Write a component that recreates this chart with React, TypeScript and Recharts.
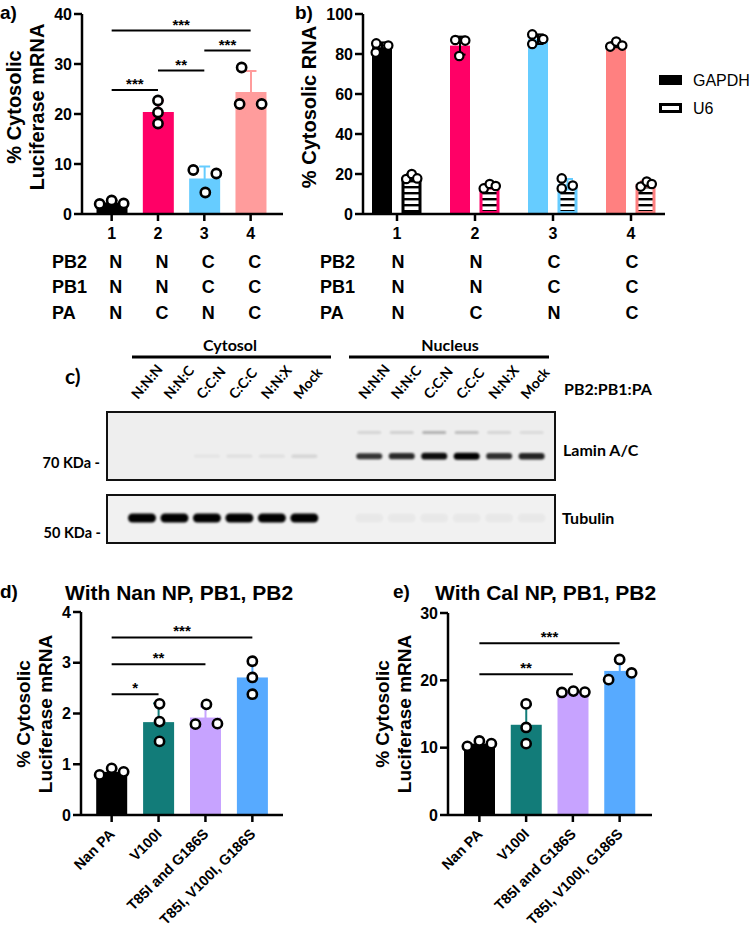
import React from 'react'
import { ComposedChart, ScatterChart, Bar, Scatter, XAxis, YAxis, ReferenceLine } from 'recharts'

const FONT = '"Liberation Sans", Arial, Helvetica, sans-serif'
const BLOT_FONT = 'Lato, "Open Sans", sans-serif'

// ---------- a) cytosolic luciferase mRNA, segment origin 1-4
const aCats = ['1', '2', '3', '4']
const aMeans = [2.3, 20.4, 7.1, 24.4]
const aSD = [0.4, 2.3, 2.4, 4.2]
const aPoints = [
  [2.0, 2.7, 2.1],
  [22.7, 20.3, 18.1],
  [8.8, 8.1, 4.3],
  [29.3, 22.0, 22.0],
]
const aColors = ['#000000', '#FF0066', '#66CCFF', '#FF9C9C']
const aTicks = [0, 10, 20, 30, 40]
const aSig = [
  { from: '1', to: '4', y: 36.7, label: '***' },
  { from: '3', to: '4', y: 32.7, label: '***' },
  { from: '2', to: '3', y: 28.7, label: '**' },
  { from: '1', to: '2', y: 24.8, label: '***' },
]

// table under a) and b): which segment is nuclear (N) or cytosolic (C)
const pbRows = [
  { name: 'PB2', values: ['N', 'N', 'C', 'C'] },
  { name: 'PB1', values: ['N', 'N', 'C', 'C'] },
  { name: 'PA', values: ['N', 'C', 'N', 'C'] },
]

// ---------- b) % cytosolic RNA, GAPDH vs U6
const bCats = ['1', '2', '3', '4']
const gapdhMeans = [83.4, 84.2, 87.4, 84.7]
const gapdhSD = [2.4, 4.5, 2.4, 1.3]
const gapdhPoints = [
  [85.3, 84.2, 80.7],
  [87.0, 86.7, 79.0],
  [89.8, 87.5, 85.0],
  [83.7, 86.2, 84.2],
]
const u6Means = [18.4, 13.9, 14.9, 15.0]
const u6SD = [1.4, 1.1, 2.6, 1.3]
const u6Points = [
  [17.5, 20.0, 17.8],
  [12.8, 15.0, 14.0],
  [17.8, 12.8, 14.2],
  [13.7, 16.2, 15.0],
]
const bColors = ['#000000', '#FF0066', '#66CCFF', '#FF8080']
const bTicks = [0, 20, 40, 60, 80, 100]

// ---------- d) and e) PA mutants
const mutCats = ['Nan PA', 'V100I', 'T85I and G186S', 'T85I, V100I, G186S']
const mutColors = ['#000000', '#127C79', '#C7A3FF', '#57AAFF']

const dMeans = [0.85, 1.83, 1.92, 2.71]
const dSD = [0.06, 0.37, 0.22, 0.33]
const dPoints = [
  [0.79, 0.92, 0.85],
  [2.19, 1.84, 1.45],
  [1.79, 2.18, 1.8],
  [3.03, 2.71, 2.38],
]
const dTicks = [0, 1, 2, 3, 4]
const dSig = [
  { from: 'Nan PA', to: 'T85I, V100I, G186S', y: 3.5, label: '***' },
  { from: 'Nan PA', to: 'T85I and G186S', y: 2.97, label: '**' },
  { from: 'Nan PA', to: 'V100I', y: 2.38, label: '*' },
]

const eMeans = [10.6, 13.4, 18.3, 21.4]
const eSD = [0.5, 3.0, 0.1, 1.5]
const ePoints = [
  [10.2, 11.0, 10.6],
  [16.5, 13.0, 10.6],
  [18.2, 18.4, 18.25],
  [23.1, 20.1, 21.1],
]
const eTicks = [0, 10, 20, 30]
const eSig = [
  { from: 'Nan PA', to: 'T85I, V100I, G186S', y: 25.5, label: '***' },
  { from: 'Nan PA', to: 'T85I and G186S', y: 20.9, label: '**' },
]

// ---------- c) western blot
const laneLabels = ['N:N:N', 'N:N:C', 'C:C:N', 'C:C:C', 'N:N:X', 'Mock']
const laneIdx = [0, 1, 2, 3, 4, 5, 7, 8, 9, 10, 11, 12] // slot 6 is the gap between fractions
const laminMain = [0, 0, 0.04, 0.06, 0.06, 0.1, 0.78, 0.82, 0.95, 1, 0.8, 0.85]
const laminUpper = [0, 0, 0, 0, 0, 0, 0.1, 0.12, 0.25, 0.2, 0.1, 0.08]
const tubulin = [1, 1, 1, 1, 1, 1, 0.03, 0.03, 0.03, 0.03, 0.03, 0.03]
const laminMainPos = 0.35
const laminUpperPos = 0.7
const tubulinPos = 0.52

// jitter of the replicate dots (px), per category / replicate
const aJitter = [[-12, 0, 12], [0, 0, 0], [-11, 12, 1], [-9, -11, 11]]
const gapdhJitter = [[-6, 6, -6.5], [-5, 5, -1], [-6, 5, -6], [-6, 0, 6]]
const u6Jitter = [[-5.5, 0, 5.5], [-6, 0, 6], [-6, -6, 5], [-5, 1, 6]]
const dJitter = [[-12, 0, 12], [1, 1, 1], [-10, 1, 12], [0, 0, 0]]
const eJitter = [[-12, 0, 12], [0, 0, 0], [-11, 0.5, 12], [0, -11, 12]]

type Geom = {
  left: number; top: number; width: number; height: number
  plotLeft: number; plotRight: number; plotTop: number; plotBottom: number
  padL: number; padR: number; xAxisH: number
}

const gA: Geom = { left: 0, top: 0, width: 300, height: 250, plotLeft: 82, plotRight: 283, plotTop: 14, plotBottom: 214, padL: 6.5, padR: 9.2, xAxisH: 30 }
const gB: Geom = { left: 300, top: 0, width: 370, height: 250, plotLeft: 363, plotRight: 665, plotTop: 14, plotBottom: 214, padL: -5, padR: -5, xAxisH: 30 }
const gD: Geom = { left: 0, top: 540, width: 300, height: 391, plotLeft: 81, plotRight: 283, plotTop: 612, plotBottom: 815, padL: 7.2, padR: 7.2, xAxisH: 110 }
const gE: Geom = { left: 380, top: 540, width: 290, height: 391, plotLeft: 448, plotRight: 652, plotTop: 613, plotBottom: 815, padL: 8, padR: 9, xAxisH: 110 }

const catX = (g: Geom, i: number) => {
  const band = (g.plotRight - g.plotLeft - g.padL - g.padR) / 4
  return g.plotLeft + g.padL + band * (i + 0.5)
}
const marginOf = (g: Geom) => ({
  top: g.plotTop - g.top,
  right: g.left + g.width - g.plotRight,
  bottom: g.top + g.height - g.plotBottom - g.xAxisH,
  left: 0,
})

const AXIS = { stroke: '#000', strokeWidth: 2.5 }
const TICK = { fill: '#000', fontSize: 16, fontWeight: 700, fontFamily: FONT }
const SIG_LABEL = { position: 'top', offset: 1, fill: '#000', fontSize: 15, fontWeight: 700, fontFamily: FONT }

// bar + SD whisker; the whisker length uses the bar's own px-per-unit
const barWithSD = (cats: string[], colors: string[], errColor: string | null, hatch = false) => (p: any) => {
  const i = p.payload ? cats.indexOf(p.payload.name) : p.index
  const c = colors[i]
  const mean = p.payload.mean
  const perUnit = mean ? p.height / mean : 0
  const yTop = p.y - p.payload.sd * perUnit
  const yLow = p.y + p.payload.sd * perUnit
  const cx = p.x + p.width / 2
  const ec = errColor || c
  return (
    <g>
      {hatch ? (
        <rect x={p.x + 1.5} y={p.y + 1.5} width={p.width - 3} height={Math.max(0, p.height - 3)} fill="url(#hatch)" stroke={c} strokeWidth={3} />
      ) : (
        <rect x={p.x} y={p.y} width={p.width} height={p.height} fill={c} />
      )}
      <line x1={cx} x2={cx} y1={yLow} y2={yTop} stroke={ec} strokeWidth={2} />
      <line x1={cx - 5.5} x2={cx + 5.5} y1={yTop} y2={yTop} stroke={ec} strokeWidth={2} />
      <line x1={cx - 5.5} x2={cx + 5.5} y1={yLow} y2={yLow} stroke={ec} strokeWidth={2} />
    </g>
  )
}

const dot = (cats: string[], jitter: number[][], k: number, shift: number, r: number, sw: number) => (p: any) => {
  const i = p.payload ? cats.indexOf(p.payload.name) : p.index
  return <circle cx={p.cx + shift + jitter[i][k]} cy={p.cy} r={r} fill="#fff" stroke="#000" strokeWidth={sw} />
}

const SlantTick = (p: any) => (
  <text transform={`translate(${p.x + 4},${p.y + 11}) rotate(-45)`} textAnchor="end" fontSize={14.5} fontWeight={700} fontFamily={FONT} fill="#000">
    {p.payload.value}
  </text>
)

function DotBarPanel({ g, cats, means, sd, points, jitter, colors, sig, domain, ticks, slanted }: any) {
  const data = cats.map((name: string, i: number) => ({
    name, mean: means[i], sd: sd[i], p0: points[i][0], p1: points[i][1], p2: points[i][2],
  }))
  return (
    <div style={{ position: 'absolute', left: g.left, top: g.top }}>
      <ComposedChart width={g.width} height={g.height} data={data} margin={marginOf(g)}>
        <XAxis dataKey="name" height={g.xAxisH} padding={{ left: g.padL, right: g.padR }} interval={0}
          axisLine={AXIS} tickLine={AXIS} tickSize={7}
          tick={slanted ? SlantTick : TICK} tickMargin={slanted ? 2 : 7} />
        <YAxis width={g.plotLeft - g.left} domain={domain} ticks={ticks} interval={0} allowDataOverflow
          axisLine={AXIS} tickLine={AXIS} tickSize={8} tickMargin={2} tick={TICK} />
        <Bar dataKey="mean" barSize={31} isAnimationActive={false} shape={barWithSD(cats, colors, null)} />
        {[0, 1, 2].map((k) => (
          <Scatter key={k} dataKey={`p${k}`} isAnimationActive={false} shape={dot(cats, jitter, k, 0, 4.6, 2.6)} />
        ))}
        {sig.map((s: any, i: number) => (
          <ReferenceLine key={i} segment={[{ x: s.from, y: s.y }, { x: s.to, y: s.y }]} stroke="#000" strokeWidth={2}
            ifOverflow="visible" label={{ value: s.label, ...SIG_LABEL } as any} />
        ))}
      </ComposedChart>
    </div>
  )
}

function PanelB() {
  const data = bCats.map((name, i) => ({
    name,
    gapdh: gapdhMeans[i], u6: u6Means[i],
    g0: gapdhPoints[i][0], g1: gapdhPoints[i][1], g2: gapdhPoints[i][2],
    u0: u6Points[i][0], u1: u6Points[i][1], u2: u6Points[i][2],
  }))
  const barSize = 20
  const barGap = 9.5
  const half = (barSize + barGap) / 2
  const gShape = (p: any) => barWithSD(bCats, bColors, '#000')({ ...p, payload: { ...p.payload, mean: p.payload.gapdh, sd: gapdhSD[bCats.indexOf(p.payload.name)] } })
  const uShape = (p: any) => barWithSD(bCats, bColors, null, true)({ ...p, payload: { ...p.payload, mean: p.payload.u6, sd: u6SD[bCats.indexOf(p.payload.name)] } })
  return (
    <div style={{ position: 'absolute', left: gB.left, top: gB.top }}>
      <ComposedChart width={gB.width} height={gB.height} data={data} margin={marginOf(gB)} barGap={barGap}>
        <defs>
          <pattern id="hatch" patternUnits="userSpaceOnUse" width="8" height="6">
            <rect width="8" height="6" fill="#fff" />
            <rect width="8" height="2.4" fill="#000" />
          </pattern>
        </defs>
        <XAxis dataKey="name" height={gB.xAxisH} padding={{ left: gB.padL, right: gB.padR }} interval={0}
          axisLine={AXIS} tickLine={AXIS} tickSize={7} tick={TICK} tickMargin={7} />
        <YAxis width={gB.plotLeft - gB.left} domain={[0, 100]} ticks={bTicks} interval={0} allowDataOverflow
          axisLine={AXIS} tickLine={AXIS} tickSize={8} tickMargin={2} tick={TICK} />
        <Bar dataKey="gapdh" barSize={barSize} isAnimationActive={false} shape={gShape} />
        <Bar dataKey="u6" barSize={barSize} isAnimationActive={false} shape={uShape} />
        {[0, 1, 2].map((k) => (
          <Scatter key={`g${k}`} dataKey={`g${k}`} isAnimationActive={false} shape={dot(bCats, gapdhJitter, k, -half, 4.2, 2.2)} />
        ))}
        {[0, 1, 2].map((k) => (
          <Scatter key={`u${k}`} dataKey={`u${k}`} isAnimationActive={false} shape={dot(bCats, u6Jitter, k, half, 4.2, 2.2)} />
        ))}
      </ComposedChart>
    </div>
  )
}

// ---------- blot
const LANE_DOMAIN = [-1.078, 12.72]

const LaneTick = (p: any) => {
  const pos = laneIdx.indexOf(p.payload.value)
  return (
    <text transform={`translate(${p.x - 4},${p.y}) rotate(-50)`} fontSize={14} fontWeight={700} fontFamily={BLOT_FONT} fill="#000">
      {laneLabels[pos % 6]}
    </text>
  )
}

const bandShape = (p: any) => {
  const v = p.payload.v
  if (!v) return <g />
  const h = p.payload.h
  const w = p.payload.w
  return (
    <rect x={p.cx - w / 2} y={p.cy - h / 2} width={w} height={h} rx={h / 2} fill="#000" opacity={Math.min(1, v)}
      style={{ filter: 'blur(0.9px)' }} />
  )
}

function Blot({ top, height, bands, withLabels }: any) {
  const labelH = withLabels ? 72 : 0
  return (
    <div style={{ position: 'absolute', left: 107, top: top - labelH }}>
      <ScatterChart width={448} height={height + labelH} margin={{ top: 0, right: 0, bottom: 0, left: 0 }}>
        <XAxis type="number" dataKey="lane" domain={LANE_DOMAIN} orientation="top" hide={!withLabels} height={labelH}
          ticks={laneIdx} interval={0} axisLine={false} tickLine={false} tickSize={0} tickMargin={12}
          tick={LaneTick} allowDataOverflow />
        <YAxis type="number" dataKey="pos" domain={[0, 1]} hide allowDataOverflow />
        <Scatter data={bands} isAnimationActive={false} shape={bandShape} />
      </ScatterChart>
    </div>
  )
}

const laminBands = [
  ...laneIdx.map((lane, i) => ({ lane, pos: laminMainPos, v: laminMain[i], h: 3 + 4 * laminMain[i], w: 26 })),
  ...laneIdx.map((lane, i) => ({ lane, pos: laminUpperPos, v: laminUpper[i], h: 3, w: 24 })),
]
const tubulinBands = laneIdx.map((lane, i) => ({ lane, pos: tubulinPos, v: tubulin[i], h: 9, w: 28 }))

// ---------- overlay text
const Txt = ({ x, y, children, size = 18, weight = 700, anchor = 'start', font = FONT, rotate = 0 }: any) => (
  <text transform={`translate(${x},${y})${rotate ? ` rotate(${rotate})` : ''}`} fontSize={size} fontWeight={weight}
    fontFamily={font} textAnchor={anchor} dominantBaseline="central" fill="#000">
    {children}
  </text>
)

const rowY = [262, 287, 313]

export default function App() {
  return (
    <div style={{ position: 'absolute', left: 0, top: 0, width: 750, height: 931, background: '#fff', overflow: 'hidden' }}>
      <DotBarPanel g={gA} cats={aCats} means={aMeans} sd={aSD} points={aPoints} jitter={aJitter} colors={aColors}
        sig={aSig} domain={[0, 40]} ticks={aTicks} slanted={false} />
      <PanelB />

      <div style={{ position: 'absolute', left: 106, top: 411, width: 450, height: 70, border: '2px solid #111', boxSizing: 'border-box', background: '#eeeeee' }} />
      <div style={{ position: 'absolute', left: 106, top: 494, width: 450, height: 50, border: '2px solid #111', boxSizing: 'border-box', background: '#f1f1f1' }} />
      <Blot top={412} height={68} bands={laminBands} withLabels />
      <Blot top={495} height={48} bands={tubulinBands} withLabels={false} />

      <DotBarPanel g={gD} cats={mutCats} means={dMeans} sd={dSD} points={dPoints} jitter={dJitter} colors={mutColors}
        sig={dSig} domain={[0, 4]} ticks={dTicks} slanted />
      <DotBarPanel g={gE} cats={mutCats} means={eMeans} sd={eSD} points={ePoints} jitter={eJitter} colors={mutColors}
        sig={eSig} domain={[0, 30]} ticks={eTicks} slanted />

      <svg width={750} height={931} style={{ position: 'absolute', left: 0, top: 0, pointerEvents: 'none' }}>
        {/* a */}
        <Txt x={0} y={12} size={19}>a)</Txt>
        <Txt x={14} y={107} size={20} anchor="middle" rotate={-90}>% Cytosolic</Txt>
        <Txt x={36.5} y={107} size={20} anchor="middle" rotate={-90}>Luciferase mRNA</Txt>
        {pbRows.map((r, j) => (
          <g key={`a${r.name}`}>
            <Txt x={52} y={rowY[j]}>{r.name}</Txt>
            {r.values.map((v, i) => <Txt key={i} x={catX(gA, i) + 4} y={rowY[j]} anchor="middle">{v}</Txt>)}
          </g>
        ))}

        {/* b */}
        <Txt x={295} y={12} size={19}>b)</Txt>
        <Txt x={309} y={107} size={20} anchor="middle" rotate={-90}>% Cytosolic RNA</Txt>
        {pbRows.map((r, j) => (
          <g key={`b${r.name}`}>
            <Txt x={320} y={rowY[j]}>{r.name}</Txt>
            {r.values.map((v, i) => <Txt key={i} x={catX(gB, i) + 1} y={rowY[j]} anchor="middle">{v}</Txt>)}
          </g>
        ))}
        <rect x={659} y={75} width={23} height={10} fill="#000" />
        <rect x={660.5} y={104.5} width={20} height={7} fill="#fff" stroke="#000" strokeWidth={3} />
        <Txt x={693} y={80} size={16} weight={400}>GAPDH</Txt>
        <Txt x={693} y={108} size={16} weight={400}>U6</Txt>

        {/* c */}
        <Txt x={65} y={375} size={21} font={BLOT_FONT}>c)</Txt>
        <Txt x={230} y={344} size={16} font={BLOT_FONT} anchor="middle">Cytosol</Txt>
        <Txt x={450} y={344} size={16} font={BLOT_FONT} anchor="middle">Nucleus</Txt>
        <line x1={132} x2={331} y1={357} y2={357} stroke="#000" strokeWidth={3} />
        <line x1={349} x2={549} y1={357} y2={357} stroke="#000" strokeWidth={3} />
        <Txt x={564} y={388} size={16} font={BLOT_FONT}>PB2:PB1:PA</Txt>
        <Txt x={563} y={449} size={16} font={BLOT_FONT}>Lamin A/C</Txt>
        <Txt x={100} y={462} size={14.5} font={BLOT_FONT} anchor="end">70 KDa -</Txt>
        <Txt x={562} y={517} size={16} font={BLOT_FONT}>Tubulin</Txt>
        <Txt x={101} y={532} size={14.5} font={BLOT_FONT} anchor="end">50 KDa -</Txt>

        {/* d */}
        <Txt x={0} y={591} size={19}>d)</Txt>
        <Txt x={65} y={592} size={21}>With Nan NP, PB1, PB2</Txt>
        <Txt x={23} y={714} size={19} anchor="middle" rotate={-90}>% Cytosolic</Txt>
        <Txt x={45} y={714} size={19} anchor="middle" rotate={-90}>Luciferase mRNA</Txt>

        {/* e */}
        <Txt x={393} y={591} size={19}>e)</Txt>
        <Txt x={435} y={592} size={21}>With Cal NP, PB1, PB2</Txt>
        <Txt x={382} y={714} size={19} anchor="middle" rotate={-90}>% Cytosolic</Txt>
        <Txt x={404} y={714} size={19} anchor="middle" rotate={-90}>Luciferase mRNA</Txt>
      </svg>
    </div>
  )
}
